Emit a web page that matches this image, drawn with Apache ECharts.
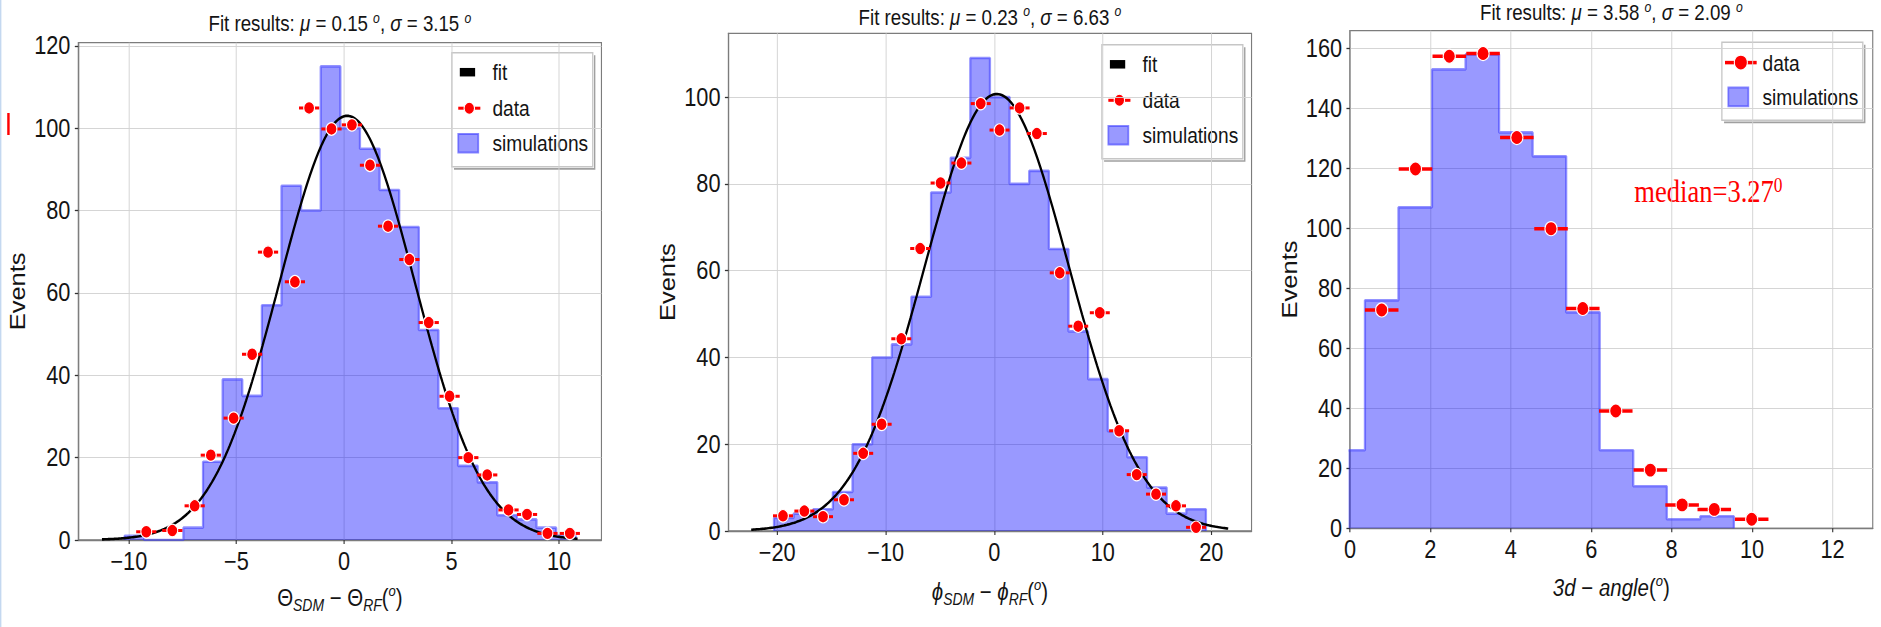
<!DOCTYPE html>
<html>
<head>
<meta charset="utf-8">
<title>SDM vs RF angular residuals</title>
<script src="https://cdn.jsdelivr.net/npm/echarts@6/dist/echarts.min.js"></script>
<style>
  html, body { margin: 0; padding: 0; background: #fff; overflow: hidden; width: 1881px; height: 627px; }
  /* the figure is laid out slightly wider and squeezed horizontally to 1881 px */
  #chart { position: absolute; left: 0; top: 0; width: 2162px; height: 627px; transform: scaleX(0.87003); transform-origin: 0 0; }
</style>
</head>
<body>
<div id="chart"></div>
<script>
// ---------- Θ_SDM − Θ_RF ----------
const thetaEdges = [-10.2, -9.288, -8.376, -7.464, -6.552, -5.64, -4.728, -3.816, -2.904, -1.992, -1.08, -0.168,
                    0.744, 1.656, 2.568, 3.48, 4.392, 5.304, 6.216, 7.128, 8.04, 8.952, 9.864, 10.776];
const thetaSim = [1, 0, 0, 3, 19, 39, 35, 57, 86, 80, 115, 100, 95, 85, 76, 51, 32, 18, 14, 6, 5, 3, 1];
const thetaDataX = [-9.19, -7.98, -6.94, -6.19, -5.13, -4.27, -3.53, -2.28, -1.62, -0.58, 0.37, 1.21,
                    2.05, 3.04, 3.94, 4.91, 5.78, 6.66, 7.65, 8.51, 9.46, 10.5];
const thetaDataY = [2.0, 2.3, 8.3, 20.6, 29.6, 45.1, 69.9, 62.7, 104.9, 99.8, 100.8, 91.0,
                    76.2, 68.1, 52.8, 34.9, 20.0, 15.8, 7.3, 6.2, 1.6, 1.6];
const thetaXErr = 0.47;
const thetaAmp = 103, thetaMu = 0.15, thetaSigma = 3.15;
const thetaFitRange = [-11.25, 10.86];
const thetaXTicks = [-10, -5, 0, 5, 10];
const thetaYTicks = [0, 20, 40, 60, 80, 100, 120];

// ---------- ϕ_SDM − ϕ_RF ----------
const phiEdges = [-20.3, -18.491, -16.682, -14.873, -13.064, -11.255, -9.446, -7.637, -5.828, -4.019, -2.21, -0.401,
                  1.408, 3.217, 5.026, 6.835, 8.644, 10.453, 12.262, 14.071, 15.88, 17.689, 19.498];
const phiSim = [3, 4, 5, 9, 20, 40, 43, 54, 78, 86, 109, 100, 80, 83, 65, 46, 35, 23, 17, 10, 4, 5];
const phiDataX = [-19.47, -17.5, -15.78, -13.85, -12.08, -10.38, -8.57, -6.83, -4.95, -3.03, -1.25, 0.48,
                  2.33, 3.92, 6.03, 7.73, 9.72, 11.5, 13.12, 14.9, 16.74, 18.59];
const phiDataY = [3.5, 4.6, 3.3, 7.2, 17.9, 24.6, 44.3, 65.1, 80.2, 84.8, 98.5, 92.4,
                  97.5, 91.6, 59.5, 47.2, 50.3, 23.1, 13.0, 8.5, 5.8, 0.85];
const phiXErr = 0.92;
const phiAmp = 100.7, phiMu = 0.23, phiSigma = 6.63;
const phiFitRange = [-22.4, 21.55];
const phiXTicks = [-20, -10, 0, 10, 20];
const phiYTicks = [0, 20, 40, 60, 80, 100];

// ---------- 3d angle ----------
const angleEdges = [-0.461, 0.373, 1.207, 2.041, 2.875, 3.709, 4.543, 5.377, 6.211, 7.045, 7.879, 8.713, 9.547];
const angleSim = [26, 76, 107, 153, 158, 132, 124, 72, 26, 14, 3, 4];
const angleDataX = [0.79, 1.63, 2.47, 3.31, 4.15, 5.0, 5.79, 6.61, 7.47, 8.26, 9.06, 9.99];
const angleDataY = [72.8, 119.8, 157.4, 158.3, 130.3, 99.9, 73.3, 39.1, 19.4, 7.8, 6.3, 3.0];
const angleXErr = 0.417;
const angleMu = 3.58, angleSigma = 2.09, angleMedian = 3.27;
const angleXTicks = [0, 2, 4, 6, 8, 10, 12];
const angleYTicks = [0, 20, 40, 60, 80, 100, 120, 140, 160];

const legendFull = ['fit', 'data', 'simulations'];
const legendShort = ['data', 'simulations'];

// ---------- styling ----------
const FONT = '"Liberation Sans", Arial, Helvetica, "DejaVu Sans", sans-serif';
const SERIF = '"Liberation Serif", "Times New Roman", "DejaVu Serif", serif';
const INK = '#141414';
const FRAME = '#7c7c7c';
const GRIDC = '#d2d2d2';
const RED = '#ff0000';
const HIST_FILL = 'rgba(0,0,255,0.4)';
const HIST_EDGE = 'rgba(60,60,255,0.55)';

// plot boxes (in the un-squeezed layout space)
const boxes = [
  { left: 90.0, top: 42.7, width: 601.3, height: 497.3 },
  { left: 837.2, top: 33.3, width: 601.3, height: 497.7 },
  { left: 1551.6, top: 30.7, width: 600.9, height: 497.6 }
];

function signed(v) { return v < 0 ? '\u2212' + Math.abs(v) : String(v); }

function histPath(edges, counts) {
  const pts = [[edges[0], 0]];
  counts.forEach((c, k) => pts.push([edges[k], c]));
  pts.push([edges[edges.length - 1], 0]);
  return pts;
}

function gaussCurve(amp, mu, sigma, range) {
  const n = 320, pts = [];
  for (let k = 0; k <= n; k++) {
    const x = range[0] + (range[1] - range[0]) * k / n;
    pts.push([x, amp * Math.exp(-((x - mu) * (x - mu)) / (2 * sigma * sigma))]);
  }
  return pts;
}

const nameRich = {
  n: { fontSize: 23.5, fontFamily: FONT, color: INK, lineHeight: 30, verticalAlign: 'middle' },
  i: { fontSize: 23.5, fontFamily: FONT, fontStyle: 'italic', color: INK, lineHeight: 30, verticalAlign: 'middle' },
  b: { fontSize: 16, fontFamily: FONT, fontStyle: 'italic', color: INK, lineHeight: 18, verticalAlign: 'bottom' },
  p: { fontSize: 15, fontFamily: FONT, fontStyle: 'italic', color: INK, lineHeight: 22, verticalAlign: 'top' }
};

function xAxisOf(i, min, max, step, ticks, name, gap) {
  return {
    type: 'value', gridIndex: i, min: min, max: max, minInterval: step, maxInterval: step,
    axisLine: { show: true, onZero: false, lineStyle: { color: FRAME, width: 1.3 } },
    axisTick: { show: true, length: 4, customValues: ticks, lineStyle: { color: '#333', width: 1.3 } },
    axisLabel: { customValues: ticks, formatter: signed, fontSize: 25, fontFamily: FONT, color: INK, margin: 9 },
    splitLine: { show: true, lineStyle: { color: GRIDC, width: 1 } },
    name: name, nameLocation: 'middle', nameGap: gap,
    nameTextStyle: { rich: nameRich }
  };
}

function yAxisOf(i, max, step, ticks, gap) {
  return {
    type: 'value', gridIndex: i, min: 0, max: max, minInterval: step, maxInterval: step,
    axisLine: { show: true, onZero: false, lineStyle: { color: FRAME, width: 1.3 } },
    axisTick: { show: true, length: 4, customValues: ticks, lineStyle: { color: '#333', width: 1.3 } },
    axisLabel: { customValues: ticks, formatter: signed, fontSize: 25, fontFamily: FONT, color: INK, margin: 9 },
    splitLine: { show: true, lineStyle: { color: GRIDC, width: 1 } },
    name: 'Events', nameLocation: 'middle', nameRotate: 90, nameGap: gap,
    nameTextStyle: { fontSize: 25.5, fontFamily: FONT, color: INK, lineHeight: 26 }
  };
}

function histSeries(i, edges, counts) {
  return {
    type: 'line', name: 'simulations', xAxisIndex: i, yAxisIndex: i, step: 'end',
    data: histPath(edges, counts), symbol: 'none', showSymbol: false, z: 1, silent: true,
    lineStyle: { color: HIST_EDGE, width: 2.6 },
    areaStyle: { color: HIST_FILL, opacity: 1 }
  };
}

function fitSeries(i, amp, mu, sigma, range) {
  return {
    type: 'line', name: 'fit', xAxisIndex: i, yAxisIndex: i,
    data: gaussCurve(amp, mu, sigma, range), symbol: 'none', showSymbol: false, z: 2, silent: true,
    lineStyle: { color: '#000', width: 2.6 }
  };
}

function errSeries(i, xs, ys, half, lw) {
  return {
    type: 'custom', xAxisIndex: i, yAxisIndex: i, z: 3, silent: true,
    data: xs.map((x, k) => [x, ys[k]]),
    encode: { x: 0, y: 1 },
    renderItem: function (params, api) {
      const x = api.value(0), y = api.value(1);
      const a = api.coord([x - half, y]), b = api.coord([x + half, y]);
      return { type: 'line', shape: { x1: a[0], y1: a[1], x2: b[0], y2: b[1] }, style: { stroke: RED, lineWidth: lw } };
    }
  };
}

function dataSeries(i, xs, ys, size) {
  return {
    type: 'scatter', name: 'data', xAxisIndex: i, yAxisIndex: i, z: 4, silent: true,
    data: xs.map((x, k) => [x, ys[k]]), symbol: 'circle', symbolSize: size,
    itemStyle: { color: RED, borderColor: '#ffffff', borderWidth: 1.2, opacity: 1 }
  };
}

// ---------- text pieces ----------
const titleRich = {
  n: { fontSize: 21.5, fontFamily: FONT, fill: INK, lineHeight: 26, verticalAlign: 'middle' },
  g: { fontSize: 21.5, fontFamily: FONT, fontStyle: 'italic', fill: INK, lineHeight: 26, verticalAlign: 'middle' },
  s: { fontSize: 14, fontFamily: FONT, fontStyle: 'italic', fill: INK, lineHeight: 18, verticalAlign: 'top' }
};
function fitTitle(mu, sigma) {
  return '{n|Fit results: }{g|\u03bc}{n| = ' + mu.toFixed(2) + ' }{s|o}{n|, }{g|\u03c3}{n| = ' + sigma.toFixed(2) + ' }{s|o}';
}
function titleEl(box, y, mu, sigma) {
  return {
    type: 'text', x: box.left + box.width / 2, y: y, silent: true,
    style: { text: fitTitle(mu, sigma), rich: titleRich, fontSize: 21.5, fontFamily: FONT, fill: INK,
             align: 'center', verticalAlign: 'middle' }
  };
}

function legendEl(box, topInset, rightInset, labels, bigData) {
  const w = 162;
  const three = labels.length === 3;
  const h = three ? 114 : 78;
  const rows = three ? [19.5, 55.5, 90.5] : [20.4, 54.7];
  const kids = [
    { type: 'polyline', shape: { points: [[w + 2.2, 2.5], [w + 2.2, h + 2.2], [2.5, h + 2.2]] },
      style: { stroke: '#a0a0a0', lineWidth: 1.6, fill: 'none' } },
    { type: 'rect', shape: { x: 0, y: 0, width: w, height: h },
      style: { fill: 'rgba(255,255,255,0.85)', stroke: '#c6c6c6', lineWidth: 1.5 } }
  ];
  labels.forEach(function (lab, k) {
    const cy = rows[k];
    if (lab === 'fit') {
      kids.push({ type: 'rect', shape: { x: 9.2, y: cy - 4.25, width: 17.6, height: 8.5 }, style: { fill: '#000' } });
    } else if (lab === 'data') {
      const x0 = bigData ? 3.6 : 7.4, x1 = bigData ? 40 : 32.8, r = bigData ? 7.5 : 6, lw = bigData ? 3.5 : 3;
      kids.push({ type: 'line', shape: { x1: x0, y1: cy, x2: x1, y2: cy }, style: { stroke: RED, lineWidth: lw } });
      kids.push({ type: 'circle', shape: { cx: (x0 + x1) / 2, cy: cy, r: r },
                  style: { fill: RED, stroke: '#ffffff', lineWidth: 1.2 } });
    } else {
      kids.push({ type: 'rect', shape: { x: 7.4, y: cy - 9.3, width: 23, height: 18.6 },
                  style: { fill: HIST_FILL, stroke: 'rgba(60,60,255,0.6)', lineWidth: 2 } });
    }
    kids.push({ type: 'text', x: 46.7, y: cy,
                style: { text: lab, fontSize: 22, fontFamily: FONT, fill: INK, align: 'left', verticalAlign: 'middle' } });
  });
  return { type: 'group', x: box.left + box.width - rightInset - w, y: box.top + topInset, silent: true, children: kids };
}

const chart = echarts.init(document.getElementById('chart'), null, { renderer: 'svg', width: 2162, height: 627 });

const option = {
  animation: false,
  backgroundColor: '#ffffff',
  textStyle: { fontFamily: FONT },
  grid: boxes.map(b => ({ left: b.left, top: b.top, width: b.width, height: b.height, show: true,
                          backgroundColor: '#ffffff', borderColor: FRAME, borderWidth: 1.3 })),
  xAxis: [
    xAxisOf(0, -12.35, 11.97, 5, thetaXTicks, '{n|\u0398}{b|SDM}{n| \u2212 \u0398}{b|RF}{n|(}{p|o}{n|)}', 43),
    xAxisOf(1, -24.5, 23.7, 10, phiXTicks, '{i|\u03d5}{b|SDM}{n| \u2212 }{i|\u03d5}{b|RF}{n|(}{p|o}{n|)}', 45.7),
    xAxisOf(2, 0, 13, 2, angleXTicks, '{i|3d}{n| \u2212 }{i|angle}{n|(}{p|o}{n|)}', 45)
  ],
  yAxis: [
    yAxisOf(0, 120.75, 20, thetaYTicks, 57),
    yAxisOf(1, 114.7, 20, phiYTicks, 57),
    yAxisOf(2, 165.9, 20, angleYTicks, 57)
  ],
  series: [
    histSeries(0, thetaEdges, thetaSim),
    fitSeries(0, thetaAmp, thetaMu, thetaSigma, thetaFitRange),
    errSeries(0, thetaDataX, thetaDataY, thetaXErr, 3),
    dataSeries(0, thetaDataX, thetaDataY, 12.5),

    histSeries(1, phiEdges, phiSim),
    fitSeries(1, phiAmp, phiMu, phiSigma, phiFitRange),
    errSeries(1, phiDataX, phiDataY, phiXErr, 3),
    dataSeries(1, phiDataX, phiDataY, 12.5),

    histSeries(2, angleEdges, angleSim),
    errSeries(2, angleDataX, angleDataY, angleXErr, 3.5),
    dataSeries(2, angleDataX, angleDataY, 14)
  ],
  graphic: {
    elements: [
      // thin page edge and marker on the far left
      { type: 'rect', shape: { x: 0, y: 0, width: 1.6, height: 627 }, style: { fill: '#c4d8f0' }, silent: true },
      { type: 'rect', shape: { x: 8.3, y: 113, width: 2.8, height: 22 }, style: { fill: RED }, silent: true },

      titleEl(boxes[0], 24, thetaMu, thetaSigma),
      titleEl(boxes[1], 17.3, phiMu, phiSigma),
      titleEl(boxes[2], 13, angleMu, angleSigma),

      legendEl(boxes[0], 10, 10, legendFull, false),
      legendEl(boxes[1], 11.5, 10, legendFull, false),
      legendEl(boxes[2], 11.5, 11.4, legendShort, true),

      {
        type: 'text', x: 1878.5, y: 192, silent: true,
        style: {
          text: '{m|median=' + angleMedian.toFixed(2) + '}{s|0}',
          rich: {
            m: { fontSize: 30.5, fontFamily: SERIF, fill: RED, lineHeight: 34, verticalAlign: 'middle' },
            s: { fontSize: 20, fontFamily: SERIF, fill: RED, lineHeight: 18, verticalAlign: 'top' }
          },
          fontSize: 30.5, fontFamily: SERIF, fill: RED, align: 'left', verticalAlign: 'middle'
        }
      }
    ]
  }
};

chart.setOption(option);
</script>
</body>
</html>
